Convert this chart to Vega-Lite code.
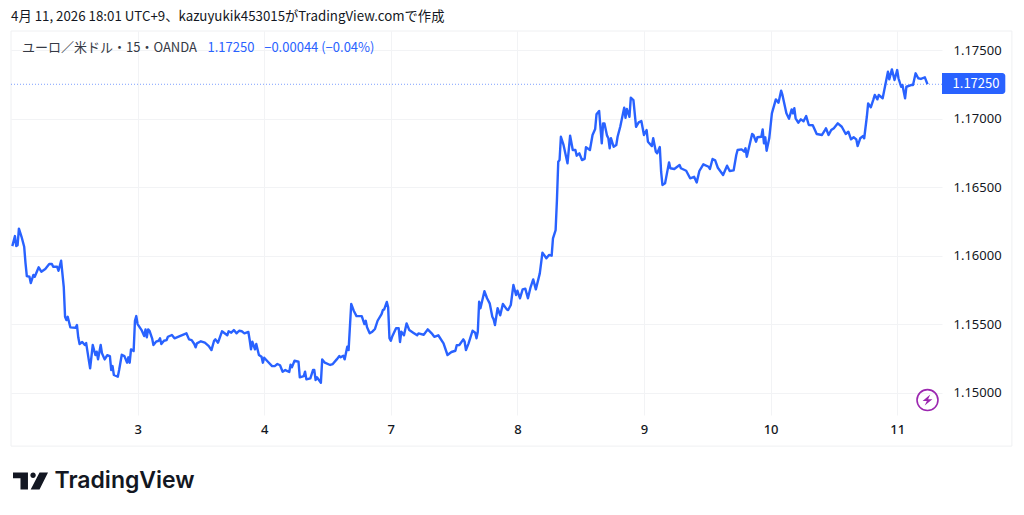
{"$schema":"https://vega.github.io/schema/vega-lite/v6.json","width":931,"height":384,"autosize":"none","padding":{"left":11,"top":31,"right":82,"bottom":100},"background":"white","config":{"view":{"stroke":null},"font":"Noto Sans"},
"datasets":{"prices":[
{"bar":1,"price":1.16069},{"bar":3,"price":1.16142},{"bar":4,"price":1.16069},{"bar":5,"price":1.16075},{"bar":6,"price":1.16196},{"bar":8,"price":1.16137},{"bar":10,"price":1.16064},{"bar":11,"price":1.15945},{"bar":12,"price":1.1585},{"bar":14,"price":1.15845},{"bar":15,"price":1.15799},{"bar":17,"price":1.15858},{"bar":18,"price":1.15845},{"bar":21,"price":1.15914},{"bar":23,"price":1.15882},{"bar":26,"price":1.15902},{"bar":29,"price":1.15938},{"bar":31,"price":1.15938},{"bar":32,"price":1.15918},{"bar":35,"price":1.15918},{"bar":36,"price":1.15889},{"bar":38,"price":1.15962},{"bar":40,"price":1.15772},{"bar":41,"price":1.15553},{"bar":42,"price":1.15529},{"bar":43,"price":1.15553},{"bar":45,"price":1.15476},{"bar":49,"price":1.15473},{"bar":50,"price":1.15493},{"bar":51,"price":1.15403},{"bar":52,"price":1.15354},{"bar":54,"price":1.15369},{"bar":56,"price":1.15347},{"bar":57,"price":1.15361},{"bar":59,"price":1.15237},{"bar":60,"price":1.15177},{"bar":62,"price":1.15347},{"bar":64,"price":1.15274},{"bar":65,"price":1.15298},{"bar":66,"price":1.15242},{"bar":68,"price":1.15347},{"bar":69,"price":1.15286},{"bar":71,"price":1.15242},{"bar":73,"price":1.15272},{"bar":75,"price":1.15266},{"bar":76,"price":1.15164},{"bar":77,"price":1.15193},{"bar":78,"price":1.15128},{"bar":81,"price":1.15115},{"bar":82,"price":1.15164},{"bar":84,"price":1.15276},{"bar":86,"price":1.15266},{"bar":88,"price":1.15218},{"bar":89,"price":1.15257},{"bar":90,"price":1.15218},{"bar":91,"price":1.15315},{"bar":93,"price":1.15303},{"bar":94,"price":1.15524},{"bar":95,"price":1.15558},{"bar":96,"price":1.155},{"bar":99,"price":1.15456},{"bar":101,"price":1.15412},{"bar":102,"price":1.15461},{"bar":103,"price":1.15403},{"bar":104,"price":1.15461},{"bar":105,"price":1.15451},{"bar":107,"price":1.15396},{"bar":108,"price":1.15347},{"bar":110,"price":1.15371},{"bar":112,"price":1.15378},{"bar":113,"price":1.15396},{"bar":114,"price":1.15354},{"bar":116,"price":1.15378},{"bar":118,"price":1.15383},{"bar":119,"price":1.15407},{"bar":122,"price":1.1542},{"bar":124,"price":1.15396},{"bar":128,"price":1.15412},
{"bar":133,"price":1.15432},{"bar":135,"price":1.15388},{"bar":137,"price":1.15383},{"bar":139,"price":1.15354},{"bar":140,"price":1.1533},{"bar":141,"price":1.15359},{"bar":144,"price":1.15374},{"bar":147,"price":1.15364},{"bar":150,"price":1.15339},{"bar":152,"price":1.1531},{"bar":154,"price":1.15378},{"bar":155,"price":1.15388},{"bar":157,"price":1.15364},{"bar":160,"price":1.15447},{"bar":164,"price":1.15418},{"bar":165,"price":1.15447},{"bar":167,"price":1.15437},{"bar":169,"price":1.15456},{"bar":171,"price":1.15432},{"bar":173,"price":1.15451},{"bar":175,"price":1.15447},{"bar":177,"price":1.15432},{"bar":180,"price":1.15442},{"bar":181,"price":1.15383},{"bar":182,"price":1.15315},{"bar":183,"price":1.15371},{"bar":185,"price":1.15315},{"bar":186,"price":1.15354},{"bar":188,"price":1.15274},{"bar":190,"price":1.15261},{"bar":191,"price":1.15218},{"bar":192,"price":1.15254},{"bar":195,"price":1.15223},{"bar":198,"price":1.15193},{"bar":200,"price":1.15193},{"bar":202,"price":1.15208},{"bar":204,"price":1.15199},{"bar":206,"price":1.15152},{"bar":208,"price":1.15164},{"bar":211,"price":1.1515},{"bar":212,"price":1.15203},{"bar":213,"price":1.15184},{"bar":215,"price":1.15232},{"bar":218,"price":1.15225},{"bar":219,"price":1.15111},{"bar":222,"price":1.1512},{"bar":223,"price":1.15152},{"bar":224,"price":1.15096},{"bar":227,"price":1.15104},{"bar":229,"price":1.15164},{"bar":230,"price":1.15164},{"bar":231,"price":1.15091},{"bar":232,"price":1.15111},{"bar":235,"price":1.15072},{"bar":236,"price":1.15242},{"bar":238,"price":1.15218},{"bar":242,"price":1.15201},{"bar":244,"price":1.15208},{"bar":247,"price":1.15242},{"bar":249,"price":1.15266},{"bar":250,"price":1.15257},{"bar":252,"price":1.15269},{"bar":253,"price":1.15242},{"bar":255,"price":1.15334},{"bar":256,"price":1.1531},{"bar":258,"price":1.15646},{"bar":260,"price":1.15595},{"bar":262,"price":1.15558},{"bar":266,"price":1.15558},{"bar":268,"price":1.155},{"bar":269,"price":1.15524},{"bar":270,"price":1.15476},{"bar":272,"price":1.15432},{"bar":274,"price":1.15444},{"bar":276,"price":1.15464},{"bar":278,"price":1.15524},{"bar":281,"price":1.15573},{"bar":282,"price":1.15602},{"bar":283,"price":1.15607},{"bar":285,"price":1.15661},{"bar":286,"price":1.15622},{"bar":287,"price":1.15396},{"bar":288,"price":1.15378},{"bar":289,"price":1.15407},{"bar":292,"price":1.15469},{"bar":294,"price":1.15469},{"bar":295,"price":1.15369},{"bar":296,"price":1.15444},{"bar":298,"price":1.15418},{"bar":300,"price":1.15505},{"bar":302,"price":1.15456},{"bar":305,"price":1.15437},{"bar":308,"price":1.15418},{"bar":309,"price":1.15432},{"bar":313,"price":1.15422},{"bar":316,"price":1.15461},{"bar":319,"price":1.15432},{"bar":321,"price":1.15407},{"bar":324,"price":1.15418},{"bar":328,"price":1.15359},{"bar":331,"price":1.15274},{"bar":334,"price":1.15296},{"bar":337,"price":1.15305},{"bar":338,"price":1.15345},{"bar":340,"price":1.15347},{"bar":343,"price":1.15388},{"bar":344,"price":1.15371},{"bar":345,"price":1.1531},{"bar":347,"price":1.15359},{"bar":350,"price":1.15451},{"bar":352,"price":1.15437},{"bar":353,"price":1.15396},{"bar":354,"price":1.15444},{"bar":355,"price":1.15663},{"bar":356,"price":1.15615},{"bar":359,"price":1.15739},{"bar":361,"price":1.15688},{"bar":363,"price":1.15651},{"bar":365,"price":1.15553},{"bar":366,"price":1.15534},{"bar":367,"price":1.15493},{"bar":369,"price":1.15615},{"bar":371,"price":1.15564},{"bar":373,"price":1.15646},{"bar":376,"price":1.15607},{"bar":377,"price":1.15602},{"bar":379,"price":1.15639},{"bar":381,"price":1.15785},{"bar":383,"price":1.15712},{"bar":384,"price":1.15743},{"bar":386,"price":1.15688},{"bar":388,"price":1.15753},{"bar":390,"price":1.15758},{"bar":392,"price":1.15688},{"bar":394,"price":1.15768},{"bar":396,"price":1.15826},{"bar":398,"price":1.15753},{"bar":401,"price":1.1587},{"bar":403,"price":1.16021},{"bar":406,"price":1.1598},{"bar":408,"price":1.16004},{"bar":410,"price":1.15999},{"bar":411,"price":1.16126},{"bar":413,"price":1.16186},{"bar":414,"price":1.16405},{"bar":415,"price":1.16685},{"bar":416,"price":1.16697},{"bar":417,"price":1.16867},{"bar":419,"price":1.16807},{"bar":422,"price":1.16673},{"bar":424,"price":1.16875},{"bar":426,"price":1.1677},{"bar":428,"price":1.1677},{"bar":429,"price":1.16729},{"bar":431,"price":1.16746},{"bar":433,"price":1.16697},{"bar":435,"price":1.16705},{"bar":436,"price":1.1679},{"bar":439,"price":1.1677},{"bar":441,"price":1.1688},{"bar":443,"price":1.16924},{"bar":444,"price":1.17031},{"bar":446,"price":1.17055},{"bar":448,"price":1.16819},{"bar":449,"price":1.16965},{"bar":450,"price":1.16965},{"bar":452,"price":1.16875},{"bar":453,"price":1.16856},{"bar":454,"price":1.16783},{"bar":455,"price":1.16856},{"bar":457,"price":1.16794},{"bar":459,"price":1.16807},{"bar":460,"price":1.16867},{"bar":462,"price":1.1694},{"bar":465,"price":1.17079},{"bar":466,"price":1.17006},{"bar":467,"price":1.1707},{"bar":469,"price":1.17013},{"bar":470,"price":1.17152},{"bar":472,"price":1.17135},{"bar":474,"price":1.1694},{"bar":476,"price":1.16972},{"bar":478,"price":1.16982},{"bar":480,"price":1.1688},{"bar":482,"price":1.16916},{"bar":483,"price":1.16831},{"bar":486,"price":1.16799},{"bar":487,"price":1.16856},{"bar":489,"price":1.16758},{"bar":490,"price":1.16746},{"bar":492,"price":1.16792},{"bar":493,"price":1.16612},{"bar":494,"price":1.16515},{"bar":496,"price":1.16527},{"bar":499,"price":1.1668},{"bar":500,"price":1.16637},{"bar":503,"price":1.16632},{"bar":507,"price":1.16661},{"bar":508,"price":1.16637},{"bar":512,"price":1.16619},{"bar":515,"price":1.16564},{"bar":518,"price":1.16575},{"bar":520,"price":1.16534},{"bar":522,"price":1.16617},{"bar":525,"price":1.16666},{"bar":529,"price":1.16648},{"bar":530,"price":1.16632},{"bar":532,"price":1.16705},{"bar":534,"price":1.16695},{"bar":536,"price":1.16641},{"bar":540,"price":1.16588},{"bar":543,"price":1.16656},{"bar":545,"price":1.16617},{"bar":548,"price":1.16622},{"bar":550,"price":1.16734},{"bar":551,"price":1.1677},{"bar":554,"price":1.16775},{"bar":556,"price":1.16758},{"bar":557,"price":1.16783},{"bar":558,"price":1.16721},{"bar":562,"price":1.16887},{"bar":563,"price":1.1688},{"bar":565,"price":1.16831},{"bar":566,"price":1.16863},{"bar":569,"price":1.16867},{"bar":570,"price":1.16921},{"bar":571,"price":1.16819},{"bar":572,"price":1.16863},{"bar":573,"price":1.16765},{"bar":575,"price":1.16856},{"bar":577,"price":1.17038},{"bar":580,"price":1.1714},{"bar":582,"price":1.17116},{"bar":584,"price":1.17203},{"bar":585,"price":1.17172},{"bar":588,"price":1.17038},{"bar":590,"price":1.16999},{"bar":592,"price":1.17067},{"bar":593,"price":1.17038},{"bar":594,"price":1.17075},{"bar":595,"price":1.17002},{"bar":597,"price":1.1697},{"bar":599,"price":1.16994},{"bar":601,"price":1.1698},{"bar":603,"price":1.17018},{"bar":605,"price":1.16953},{"bar":608,"price":1.16951},{"bar":611,"price":1.16887},{"bar":615,"price":1.1688},{"bar":617,"price":1.16911},{"bar":618,"price":1.16929},{"bar":620,"price":1.1688},{"bar":622,"price":1.16916},{"bar":624,"price":1.16929},{"bar":627,"price":1.16965},{"bar":630,"price":1.1694},{"bar":633,"price":1.16887},{"bar":635,"price":1.16904},{"bar":637,"price":1.16848},{"bar":639,"price":1.16863},{"bar":641,"price":1.16848},{"bar":642,"price":1.16799},{"bar":644,"price":1.16856},{"bar":646,"price":1.16872},{"bar":647,"price":1.16856},{"bar":649,"price":1.17013},{"bar":650,"price":1.17111},{"bar":652,"price":1.17082},{"bar":654,"price":1.1714},{"bar":655,"price":1.17172},{"bar":657,"price":1.1714},{"bar":658,"price":1.17172},{"bar":661,"price":1.17148},{"bar":663,"price":1.17245},{"bar":665,"price":1.17342},{"bar":666,"price":1.17286},{"bar":668,"price":1.17359},{"bar":670,"price":1.17281},{"bar":672,"price":1.17354},{"bar":673,"price":1.17294},{"bar":675,"price":1.17232},{"bar":676,"price":1.17245},{"bar":678,"price":1.17148},{"bar":679,"price":1.17232},{"bar":683,"price":1.17245},{"bar":684,"price":1.17245},{"bar":686,"price":1.1733},{"bar":688,"price":1.17294},{"bar":690,"price":1.17289},{"bar":691,"price":1.17294},{"bar":693,"price":1.17301},{"bar":695,"price":1.1725}
]},
"encoding":{"x":{"field":"bar","type":"quantitative","scale":{"domain":[0,706],"nice":false,"zero":false},"axis":{"title":null,"values":[96,192,288,384,480,576,672],"labelExpr":"['3','4','7','8','9','10','11'][datum.value/96-1]","grid":true,"gridColor":"#f2f3f5","domain":false,"ticks":false,"labelFontSize":13,"labelColor":"#131722","labelPadding":8,"labelFont":"Noto Sans","labelFontWeight":500}},"y":{"field":"price","type":"quantitative","scale":{"domain":[1.14836,1.17639],"nice":false,"zero":false},"axis":{"title":null,"orient":"right","values":[1.15,1.155,1.16,1.165,1.17,1.175],"format":".5f","grid":true,"gridColor":"#f2f3f5","domain":false,"ticks":false,"labelFontSize":13,"labelColor":"#131722","labelPadding":11,"labelFont":"Noto Sans"}}},
"layer":[
{"data":{"values":[{"bar":0,"bar2":759,"price":1.14609,"price2":1.17639}]},"mark":{"type":"rect","filled":false,"stroke":"#eff0f2","strokeWidth":1,"clip":false},"encoding":{"x2":{"field":"bar2"},"y2":{"field":"price2"}}},
{"data":{"values":[{"price":1.1725,"bar":0,"bar2":706}]},"mark":{"type":"rule","stroke":"#2962FF","strokeWidth":1,"strokeDash":[1,2],"opacity":0.6},"encoding":{"x2":{"field":"bar2"}}},
{"data":{"name":"prices"},"mark":{"type":"line","stroke":"#2962FF","strokeWidth":2.4,"strokeJoin":"round"}},
{"data":{"values":[{"bar":706,"bar2":754,"price":1.17179,"price2":1.17332}]},"mark":{"type":"rect","fill":"#2962FF","cornerRadiusTopRight":3,"cornerRadiusBottomRight":3,"clip":false},"encoding":{"x2":{"field":"bar2"},"y2":{"field":"price2"}}},
{"data":{"values":[{"bar":714,"price":1.1725,"label":"1.17250","color":"white","size":13},{"bar":0,"price":1.17741,"label":"4月 11, 2026 18:01 UTC+9、kazuyukik453015がTradingView.comで作成","color":"#131722","size":13.3},{"bar":8.3,"price":1.17515,"label":"ユーロ／米ドル・15・OANDA","color":"#363a45","size":13},{"bar":149,"price":1.17515,"label":"1.17250","color":"#2962FF","size":13},{"bar":192,"price":1.17515,"label":"−0.00044 (−0.04%)","color":"#2962FF","size":13}]},"mark":{"type":"text","align":"left","baseline":"middle","font":"Noto Sans CJK JP","clip":false},"encoding":{"text":{"field":"label"},"color":{"field":"color","type":"nominal","scale":null},"size":{"field":"size","type":"quantitative","scale":null}}},
{"data":{"values":[{"bar":33,"price":1.14354,"label":"TradingView"}]},"mark":{"type":"text","align":"left","baseline":"middle","font":"Inter","fontWeight":600,"fontSize":23,"color":"#131722","clip":false},"encoding":{"text":{"field":"label"}}},
{"data":{"values":[{"bar":14.8,"price":1.14354}]},"mark":{"type":"point","filled":true,"fill":"#131722","stroke":null,"opacity":1,"size":1225,"shape":"M-1,-0.485H-0.146V0.485H-0.573V-0.155H-1Z M0.515,-0.485H1L0.515,0.485H0.01Z M-0.009,-0.33a0.155,0.155 0 1,0 0.31,0a0.155,0.155 0 1,0 -0.31,0Z","clip":false}},
{"data":{"values":[{"bar":695,"price":1.14945}]},"mark":{"type":"point","filled":false,"stroke":"#9C27B0","strokeWidth":1.6,"opacity":1,"size":440,"shape":"circle","clip":false}},
{"data":{"values":[{"bar":695,"price":1.14945}]},"mark":{"type":"point","filled":true,"fill":"#9C27B0","stroke":null,"opacity":1,"size":150,"shape":"M0.45,-0.9L-0.8,0.15H-0.1L-0.45,0.9L0.8,-0.15H0.1Z","clip":false}}
]}
